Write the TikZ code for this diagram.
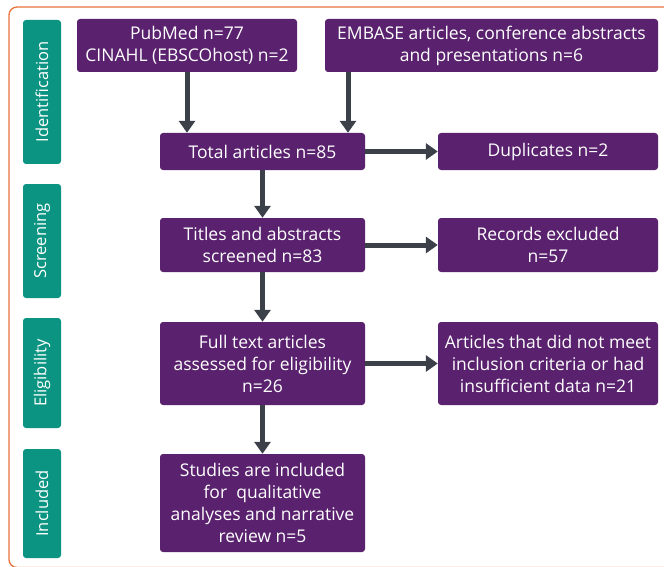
\documentclass[tikz,border=0pt]{standalone}
\usepackage{fontspec}
\setmainfont{Open Sans}
\usetikzlibrary{arrows.meta}
\definecolor{boxpurple}{HTML}{5A226E}
\definecolor{sideteal}{HTML}{0A9481}
\definecolor{framecol}{HTML}{E8733A}
\definecolor{arrowcol}{HTML}{3B4049}
\begin{document}
\begin{tikzpicture}[x=1pt,y=-1pt,
  pbox/.style={fill=boxpurple,draw=none,rounded corners=3pt,text=white,align=center,font=\fontsize{17.5}{22}\selectfont,inner sep=0pt},
  sbox/.style={fill=sideteal,draw=none,rounded corners=3pt,inner sep=0pt},
  slab/.style={rotate=90,text=white,font=\fontsize{16.5}{18}\selectfont},
  arr/.style={draw=arrowcol,line width=5pt,-{Triangle[length=12pt,width=16pt]}}]
\useasboundingbox (0,0) rectangle (664,567);
\begin{scope}
\clip (0,0) rectangle (664,567);
\draw[framecol,line width=1.3pt,rounded corners=8pt] (9,7) rectangle (700,567.5);
\end{scope}
% side labels
\node[sbox,minimum width=38pt,minimum height=144pt] (sid) at (42,92) {};
\node[slab] at (sid.center) {Identification};
\node[sbox,minimum width=38pt,minimum height=114pt] (ssc) at (42,241) {};
\node[slab] at (ssc.center) {Screening};
\node[sbox,minimum width=38pt,minimum height=110pt] (sel) at (42,373) {};
\node[slab] at (sel.center) {Eligibility};
\node[sbox,minimum width=38pt,minimum height=109pt] (sin) at (42,503.5) {};
\node[slab] at (sin.center) {Included};
% main boxes
\node[pbox,minimum width=220pt,minimum height=53pt] (pub) at (187,45.5) {PubMed n=77\\CINAHL (EBSCOhost) n=2};
\node[pbox,minimum width=333pt,minimum height=53pt] (emb) at (491.5,45.5) {EMBASE articles, conference abstracts\\and presentations n=6};
\node[pbox,minimum width=205pt,minimum height=37pt] (tot) at (262.5,151.5) {Total articles n=85};
\node[pbox,minimum width=220pt,minimum height=37pt] (dup) at (548,151.5) {Duplicates n=2};
\node[pbox,minimum width=205pt,minimum height=54pt] (tit) at (262.5,245) {Titles and abstracts\\screened n=83};
\node[pbox,minimum width=220pt,minimum height=54pt] (rec) at (548,245) {Records excluded\\n=57};
\node[pbox,minimum width=205pt,minimum height=83pt] (ful) at (262.5,363.5) {Full text articles\\assessed for eligibility\\n=26};
\node[pbox,minimum width=220pt,minimum height=83pt] (art) at (548,363.5) {Articles that did not meet\\inclusion criteria or had\\insufficient data n=21};
\node[pbox,minimum width=205pt,minimum height=98pt] (stu) at (262.5,503) {Studies are included\\for\ \ qualitative\\analyses and narrative\\review n=5};
% arrows
\draw[arr] (pub.south -| 187,0) -- (tot.north -| 187,0);
\draw[arr] (emb.south -| 348,0) -- (tot.north -| 348,0);
\draw[arr] (tot) -- (dup);
\draw[arr] (tot) -- (tit);
\draw[arr] (tit) -- (rec);
\draw[arr] (tit) -- (ful);
\draw[arr] (ful) -- (art);
\draw[arr] (ful) -- (stu);
\end{tikzpicture}
\end{document}
